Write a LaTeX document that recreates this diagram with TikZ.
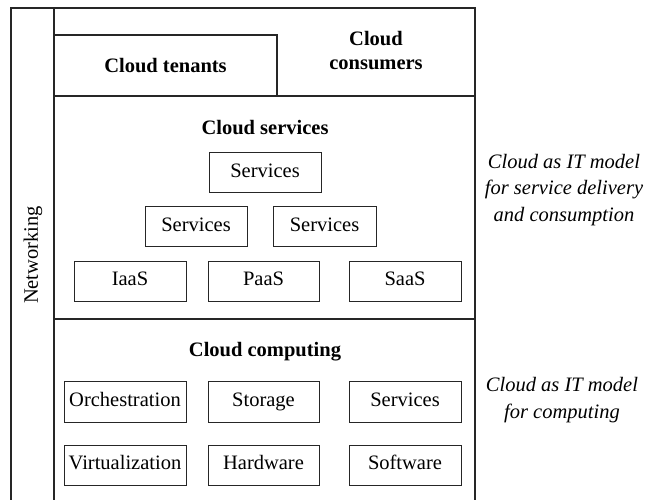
\documentclass[tikz,border=0pt]{standalone}
\usepackage{fontspec}
\setmainfont{Liberation Serif}
\begin{document}
\begin{tikzpicture}[x=1pt,y=-1pt,
  frame/.style={line width=1.3pt,draw=black!85},
  cbox/.style={draw=black!85,line width=1pt,inner sep=0pt,minimum height=40pt,text height=14pt,text depth=4.5pt,font=\fontsize{20.5}{24}\selectfont},
  title/.style={font=\fontsize{20.5}{24}\selectfont\bfseries,align=center},
  note/.style={font=\fontsize{20.5}{26.5}\selectfont\itshape,align=center}]
\useasboundingbox (0,0) rectangle (654,500);
% frame
\coordinate (ob1) at (11,500); \coordinate (ot1) at (11,8);
\coordinate (ot2) at (475,8); \coordinate (ob2) at (475,500);
\coordinate (it) at (54,8); \coordinate (ib) at (54,500);
\coordinate (l1a) at (54,96); \coordinate (l1b) at (475,96);
\coordinate (l2a) at (54,319); \coordinate (l2b) at (475,319);
\draw[frame] (ob1) -- (ot1) -- (ot2) -- (ob2);
\draw[frame] (it) -- (ib);
\draw[frame] (l1a) -- (l1b);
\draw[frame] (l2a) -- (l2b);
% top row
\node[draw=black!85,line width=1.1pt,minimum width=223pt,minimum height=61pt,inner sep=0pt,title] (ten) at (165.5,65.5) {Cloud tenants};
\node[title] (con) at (376,51) {Cloud\\consumers};
% networking
\node[rotate=90,font=\fontsize{20.5}{24}\selectfont] (net) at (33,255) {Networking};
% cloud services
\node[title] (cs) at (265,128) {Cloud services};
\node[cbox,minimum width=112pt] (s1) at (265,173) {Services};
\node[cbox,minimum width=102pt] (s2) at (196,227) {Services};
\node[cbox,minimum width=103pt] (s3) at (324.5,227) {Services};
\node[cbox,minimum width=112pt] (iaas) at (130,281) {IaaS};
\node[cbox,minimum width=111pt] (paas) at (263.5,281) {PaaS};
\node[cbox,minimum width=112pt] (saas) at (405,281) {SaaS};
% cloud computing
\node[title] (cc) at (265,352) {Cloud computing};
\node[cbox,minimum width=122pt,minimum height=41pt] (orc) at (125,401.5) {Orchestration};
\node[cbox,minimum width=111pt,minimum height=41pt] (sto) at (263.5,401.5) {Storage};
\node[cbox,minimum width=112pt,minimum height=41pt] (ser) at (405,401.5) {Services};
\node[cbox,minimum width=122pt] (vir) at (125,465) {Virtualization};
\node[cbox,minimum width=111pt] (har) at (263.5,465) {Hardware};
\node[cbox,minimum width=112pt] (sof) at (405,465) {Software};
% notes
\node[note] (n1) at (564,190) {Cloud as IT model\\for service delivery\\and consumption};
\node[note] (n2) at (562,400) {Cloud as IT model\\for computing};
\end{tikzpicture}
\end{document}
